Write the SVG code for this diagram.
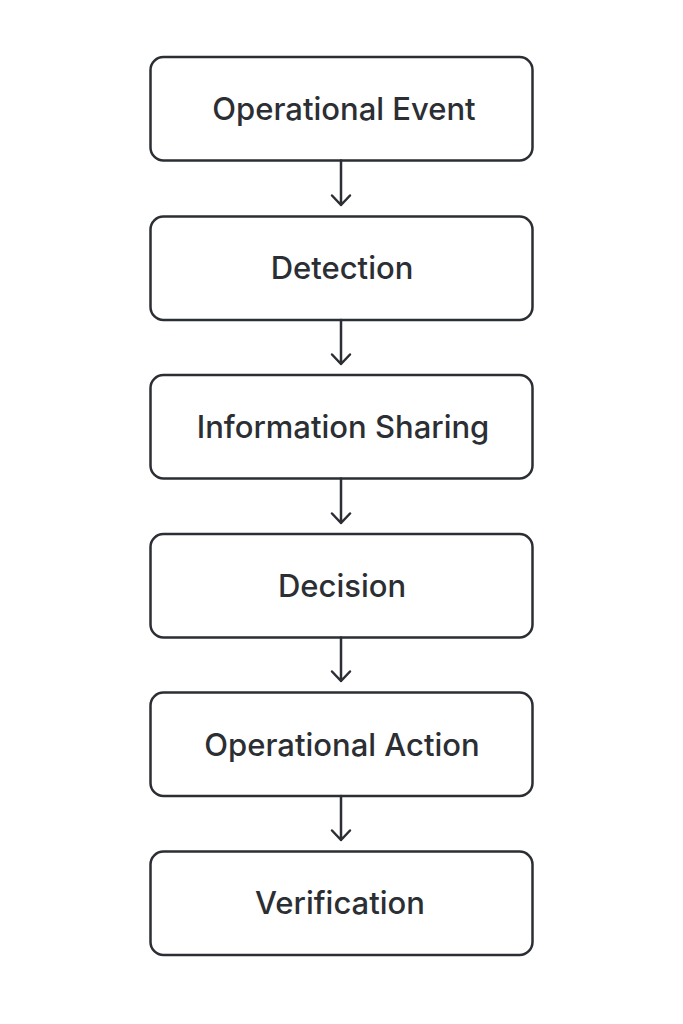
<svg xmlns="http://www.w3.org/2000/svg" width="683" height="1024" viewBox="0 0 683 1024">
<style>
.box{fill:#ffffff;stroke:#2b2e33;stroke-width:2.5}
.lbl{font-family:Inter,"Noto Sans",sans-serif;font-size:31px;font-weight:500;fill:#2b2e33;text-anchor:middle}
.con{stroke:#2b2e33;stroke-width:2.5;fill:none;stroke-linecap:round;stroke-linejoin:round}
</style>
<rect width="683" height="1024" fill="#ffffff"/>
<g id="n1"><rect class="box" x="150.5" y="57" width="382" height="103.5" rx="13"/><text class="lbl" x="344" y="120">Operational Event</text></g>
<g id="n2"><rect class="box" x="150.5" y="216.5" width="382" height="103.5" rx="13"/><text class="lbl" x="342" y="279">Detection</text></g>
<g id="n3"><rect class="box" x="150.5" y="375" width="382" height="103.5" rx="13"/><text class="lbl" x="343" y="438">Information Sharing</text></g>
<g id="n4"><rect class="box" x="150.5" y="534" width="382" height="103.5" rx="13"/><text class="lbl" x="342" y="597">Decision</text></g>
<g id="n5"><rect class="box" x="150.5" y="692.5" width="382" height="103.5" rx="13"/><text class="lbl" x="342" y="756">Operational Action</text></g>
<g id="n6"><rect class="box" x="150.5" y="851.5" width="382" height="103.5" rx="13"/><text class="lbl" x="340" y="914">Verification</text></g>
<g id="connectors">
<path class="con" d="M341 160.5V205M332 195.5l9 9.5l9-9.5"/>
<path class="con" d="M341 320V364M332 354.5l9 9.5l9-9.5"/>
<path class="con" d="M341 478.5V523M332 513.5l9 9.5l9-9.5"/>
<path class="con" d="M341 637.5V681M332 671.5l9 9.5l9-9.5"/>
<path class="con" d="M341 796V840M332 830.5l9 9.5l9-9.5"/>
</g>
</svg>
